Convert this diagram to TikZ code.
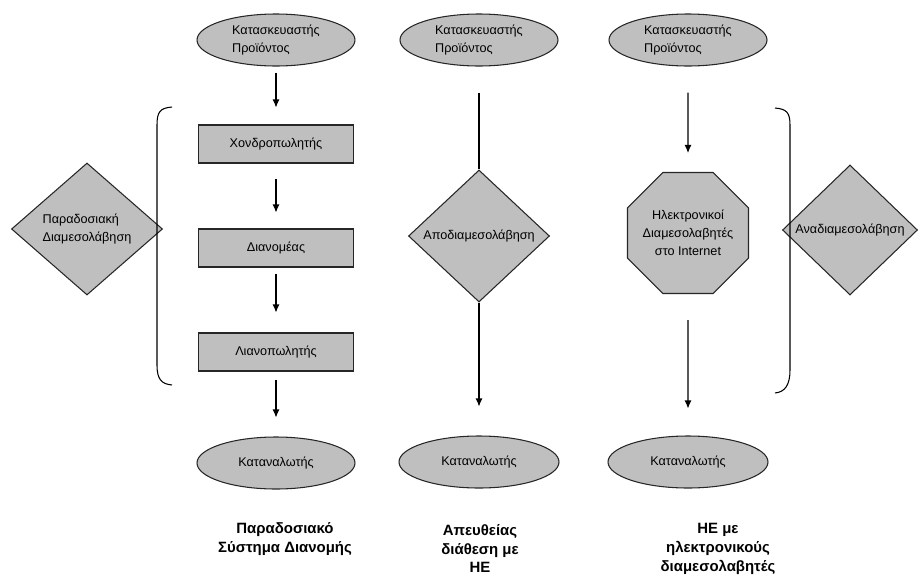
\documentclass[tikz,border=0pt]{standalone}
\usepackage{fontspec}
\setmainfont{Liberation Sans}
\usetikzlibrary{shapes.geometric,arrows.meta,positioning}

\begin{document}
\begin{tikzpicture}[node distance = 2.08cm, auto,
      every node/.style={font=\fontsize{7.2}{10.2}\selectfont},
      grayfill/.style={draw=black!85, line width=0.6pt, fill=black!25},
      oval/.style={grayfill, ellipse, minimum width=3.16cm, minimum height=1.04cm, inner sep=0pt, align=left},
      box/.style={grayfill, rectangle, minimum width=3.1cm, minimum height=0.76cm},
      rhomb/.style={grayfill, diamond, inner sep=0pt, align=left},
      octa/.style={grayfill, regular polygon, regular polygon sides=8, inner sep=-0.3cm, minimum size=2.62cm, align=center},
      caption/.style={font=\fontsize{8.5}{10.8}\selectfont\bfseries, align=center},
      arr/.style={-{Latex[length=1.6mm,width=1.4mm]}, line width=0.6pt}]
      \useasboundingbox (0,0) rectangle (18.38,-11.6);
      % traditional chain
      \node (P1) [oval] at (5.52,-0.8) {Κατασκευαστής\\Προϊόντος};
      \node (W1) [box, below of=P1] {Χονδροπωλητής};
      \node (D1) [box, below of=W1] {Διανομέας};
      \node (R1) [box, below of=D1] {Λιανοπωλητής};
      \node (C1) [oval, below of=R1, node distance=2.22cm] {Καταναλωτής};
      \node (M1) [rhomb, minimum width=3.02cm, minimum height=2.64cm] at (1.74,-4.58) {Παραδοσιακή\\Διαμεσολάβηση};
      \draw [arr, shorten <=0.12cm, shorten >=0.34cm] (P1) to node {} (W1);
      \draw [arr, shorten <=0.3cm, shorten >=0.32cm] (W1) to node {} (D1);
      \draw [arr, shorten <=0.12cm, shorten >=0.4cm] (D1) to node {} (R1);
      \draw [arr, shorten <=0.16cm, shorten >=0.38cm] (R1) to node {} (C1);
      % direct sale
      \node (P2) [oval] at (9.58,-0.8) {Κατασκευαστής\\Προϊόντος};
      \node (M2) [rhomb, minimum width=2.82cm, minimum height=2.64cm] at (9.58,-4.72) {Αποδιαμεσολάβηση};
      \node (C2) [oval, minimum width=3.2cm] at (9.58,-9.24) {Καταναλωτής};
      \draw [line width=0.6pt, shorten <=0.52cm] (P2) to node {} (M2);
      \draw [arr, shorten >=0.58cm] (M2) to node {} (C2);
      % electronic intermediaries
      \node (P3) [oval] at (13.76,-0.8) {Κατασκευαστής\\Προϊόντος};
      \node (E3) [octa] at (13.76,-4.66) {Ηλεκτρονικοί\\Διαμεσολαβητές\\στο Internet};
      \node (C3) [oval, minimum width=3.2cm] at (13.76,-9.24) {Καταναλωτής};
      \node (M3) [rhomb, minimum width=2.7cm, minimum height=2.6cm] at (17.0,-4.6) {Αναδιαμεσολάβηση};
      \draw [arr, shorten <=0.52cm, shorten >=0.38cm] (P3) to node {} (E3);
      \draw [arr, shorten <=0.52cm, shorten >=0.54cm] (E3) to node {} (C3);
      % braces
      \draw [line width=0.6pt] (3.44,-2.14) .. controls (3.2,-2.16) and (3.14,-2.24) .. (3.14,-2.5)
            -- (3.14,-7.3) .. controls (3.14,-7.6) and (3.24,-7.68) .. (3.44,-7.7);
      \draw [line width=0.6pt] (15.5,-2.16) .. controls (15.74,-2.18) and (15.8,-2.26) .. (15.8,-2.5)
            -- (15.8,-7.4) .. controls (15.8,-7.7) and (15.7,-7.84) .. (15.5,-7.86);
      % captions
      \node (T1) [caption] at (5.7,-10.79) {Παραδοσιακό\\Σύστημα Διανομής};
      \node (T2) [caption] at (9.6,-10.97) {Απευθείας\\διάθεση με\\ΗΕ};
      \node (T3) [caption] at (14.36,-10.97) {ΗΕ με\\ηλεκτρονικούς\\διαμεσολαβητές};
\end{tikzpicture}
\end{document}
